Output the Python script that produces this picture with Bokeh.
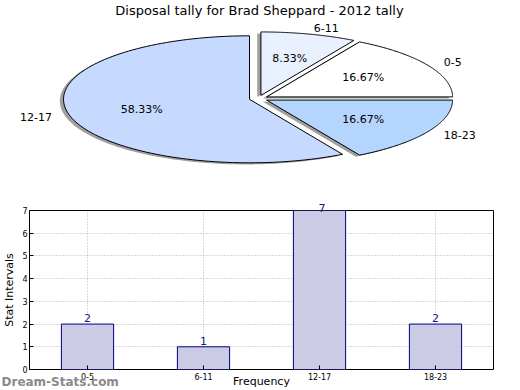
import numpy as np
from bokeh.plotting import figure
from bokeh.models import Range1d, FixedTicker, Label, Title
from bokeh.embed import file_html
from bokeh.resources import INLINE

# ---- data ----
title_text = "Disposal tally for Brad Sheppard - 2012 tally"
categories = ["0-5", "6-11", "12-17", "18-23"]
counts = [2, 1, 7, 2]
pie_colors = ["#ffffff", "#eaf1fe", "#c6d9fe", "#b4d6fe"]
y_ticks = [0, 1, 2, 3, 4, 5, 6, 7]
y_label = "Stat Intervals"
x_label = "Frequency"
watermark = "Dream-Stats.com"

FONT = "DejaVu Sans"
W = 520

# ---- pie (elliptical, exploded, with shadow) ----
PH = 200
pie = figure(width=W, height=PH, output_backend="svg", toolbar_location=None,
             x_range=Range1d(0, W), y_range=Range1d(PH, 0), min_border=0)
pie.axis.visible = False
pie.grid.visible = False
pie.outline_line_color = None

cx, cy, rx, ry = 258.0, 98.0, 186.0, 63.5
explode = 0.05
total = float(sum(counts))
fracs = [c / total for c in counts]
start = 0.0
wx, wy, sx, sy = [], [], [], []
for cat, f in zip(categories, fracs):
    a0 = start * 2 * np.pi
    a1 = (start + f) * 2 * np.pi
    mid = (a0 + a1) / 2
    ex = explode * rx * np.cos(mid)
    ey = explode * ry * np.sin(mid)
    t = np.linspace(a0, a1, 120)
    xs = np.concatenate([[cx + ex], cx + ex + rx * np.cos(t)])
    ys = np.concatenate([[cy - ey], cy - ey - ry * np.sin(t)])
    wx.append(list(xs)); wy.append(list(ys))
    sx.append(list(xs - 0.02 * rx)); sy.append(list(ys + 0.025 * ry))
    pie.add_layout(Label(x=cx + ex + 1.1 * rx * np.cos(mid), y=cy - ey - 1.1 * ry * np.sin(mid),
                         text=cat, text_align="left" if np.cos(mid) > 0 else "right",
                         text_baseline="middle", text_font=FONT, text_font_size="11px",
                         text_color="black"))
    pie.add_layout(Label(x=cx + ex + 0.6 * rx * np.cos(mid), y=cy - ey - 0.6 * ry * np.sin(mid),
                         text="%.2f%%" % (f * 100), text_align="center",
                         text_baseline="middle", text_font=FONT, text_font_size="11px",
                         text_color="black"))
    start += f

pie.patches(sx, sy, fill_color="#808080", fill_alpha=0.75, line_color=None)
pie.patches(wx, wy, fill_color=pie_colors, line_color="black", line_width=1)
pie.add_layout(Label(x=259, y=2, text=title_text, text_align="center",
                     text_baseline="top", text_font=FONT, text_font_size="13px",
                     text_color="black"))

# ---- bar chart ----
BH = 190
BL, BR = 25, 27
YMAX = 7
bar = figure(width=W, height=BH, output_backend="svg", toolbar_location=None,
             x_range=categories, y_range=Range1d(0, YMAX),
             min_border_top=10, min_border_bottom=21, min_border_right=BR, min_border_left=BL)
bar.vbar(x=categories, top=counts, width=0.45, fill_color="#cbcbe5",
         line_color="#000080", line_width=1)

frame_w = W - BL - BR
n = len(categories)
for i, c in enumerate(counts):
    if c < YMAX - 0.3:
        bar.add_layout(Label(x=i + 0.5, y=c, text=str(c), text_align="center",
                             text_baseline="bottom", y_offset=2, text_font=FONT,
                             text_font_size="11px", text_color="#1a1a80"))
    else:
        # label above the top edge of the frame: draw it in the "above" panel
        bar.add_layout(Title(text=str(c), align="left", offset=(i + 0.5) * frame_w / n - 3.5,
                             standoff=-3, vertical_align="bottom", text_font=FONT,
                             text_font_size="11px", text_font_style="normal",
                             text_color="#1a1a80"), "above")

bar.outline_line_color = "black"
bar.outline_line_width = 1
bar.xaxis.axis_line_color = None
bar.yaxis.axis_line_color = None
bar.yaxis.ticker = FixedTicker(ticks=y_ticks)
bar.yaxis.minor_tick_line_color = None

for ax in (bar.xaxis[0], bar.yaxis[0]):
    ax.major_tick_in = 4
    ax.major_tick_out = 0
    ax.major_label_text_font = FONT
    ax.major_label_text_font_size = "8px"
    ax.major_label_text_color = "black"
    ax.major_label_standoff = 3
    ax.major_tick_line_color = "black"
    ax.axis_label_text_font = FONT
    ax.axis_label_text_font_size = "11px"
    ax.axis_label_text_font_style = "normal"
    ax.axis_label_text_color = "black"
bar.yaxis[0].axis_label = y_label
bar.yaxis[0].axis_label_standoff = 3
bar.yaxis[0].major_label_standoff = 2
bar.xaxis[0].axis_label = x_label
bar.xaxis[0].axis_label_standoff = -8

bar.xgrid.grid_line_color = "#b4b4b4"
bar.ygrid.grid_line_color = "#b4b4b4"
bar.xgrid.grid_line_dash = "1 2"
bar.ygrid.grid_line_dash = "1 2"

bar.add_layout(Title(text=watermark, align="left", offset=-BL - 3, standoff=-31,
                     vertical_align="top", text_font=FONT, text_font_size="12px",
                     text_font_style="bold", text_color="#8a8a8a"), "below")

open("out.html", "w").write(file_html([pie, bar], INLINE))
